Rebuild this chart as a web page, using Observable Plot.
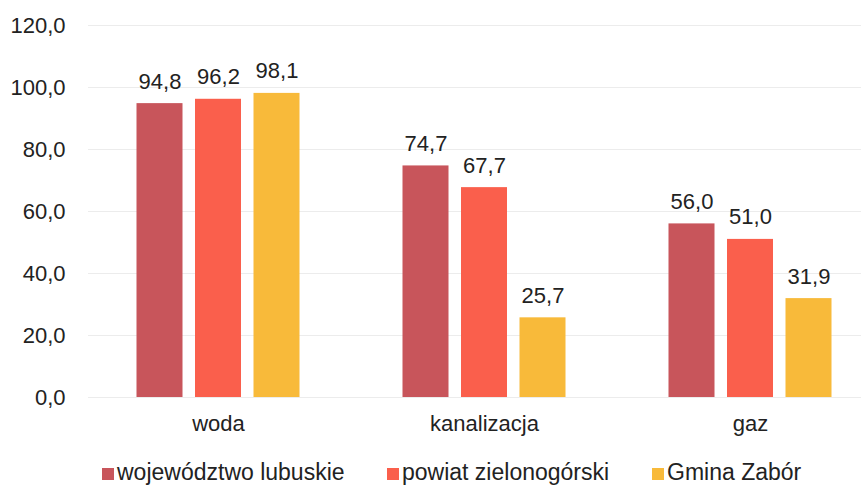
<!DOCTYPE html>
<html><head><meta charset="utf-8">
<script src="https://cdn.jsdelivr.net/npm/d3@7"></script>
<script src="https://cdn.jsdelivr.net/npm/@observablehq/plot@0.6"></script>
<style>
body{margin:0;background:#fff;font-family:"Liberation Sans",Arial,sans-serif;color:#222}
#legend{position:relative;height:41px;width:861px}
.item{position:absolute;top:14px;font-size:23px;line-height:26px;display:flex;align-items:baseline;white-space:nowrap}
.sw{display:inline-block;width:12px;height:12px;margin-right:3px}
</style></head><body>
<div id="chart"></div><div id="legend"></div>
<script>
const categories = ["woda", "kanalizacja", "gaz"];
const series = ["województwo lubuskie", "powiat zielonogórski", "Gmina Zabór"];
const wojewodztwo = [94.8, 74.7, 56.0];
const powiat = [96.2, 67.7, 51.0];
const gmina = [98.1, 25.7, 31.9];
const yTicks = [0, 20, 40, 60, 80, 100, 120];
const colors = ["#c8555b", "#fa5f4c", "#f8ba3a"];

const values = [wojewodztwo, powiat, gmina];
const fmt = d => d.toFixed(1).replace(".", ",");
const offsets = [-58.5, 0, 58.5];
const legendLeft = [102, 387, 652];

const marks = [
  Plot.gridY(yTicks, {stroke: "#ececec", strokeOpacity: 1}),
  Plot.axisY(yTicks, {tickSize: 0, tickPadding: 23, tickFormat: fmt, fontSize: 22, fill: "#222"}),
  Plot.axisX({tickSize: 0, tickPadding: 18, fontSize: 22, fill: "#222"})
];
series.forEach((s, i) => {
  const rows = categories.map((c, j) => ({cat: c, series: s, value: values[i][j]}));
  marks.push(Plot.barY(rows, {x: "cat", y: "value", fill: "series", dx: offsets[i], insetLeft: 110, insetRight: 110}));
  marks.push(Plot.text(rows, {x: "cat", y: "value", text: d => fmt(d.value), dx: offsets[i], dy: -15, lineAnchor: "bottom", fontSize: 22, fill: "#222"}));
});

const chart = Plot.plot({
  width: 861,
  height: 445,
  marginTop: 25,
  marginBottom: 48,
  marginLeft: 88,
  marginRight: 0,
  style: {fontFamily: "'Liberation Sans', Arial, sans-serif", background: "#fff"},
  x: {type: "band", domain: categories, range: [85, 883], padding: 0, label: null},
  y: {domain: [0, 120], label: null},
  color: {domain: series, range: colors},
  marks
});
document.getElementById("chart").appendChild(chart);

const legend = document.getElementById("legend");
series.forEach((s, i) => {
  const it = document.createElement("div");
  it.className = "item";
  it.style.left = legendLeft[i] + "px";
  const sw = document.createElement("span");
  sw.className = "sw";
  sw.style.background = colors[i];
  it.appendChild(sw);
  it.appendChild(document.createTextNode(s));
  legend.appendChild(it);
});
</script>
</body></html>
